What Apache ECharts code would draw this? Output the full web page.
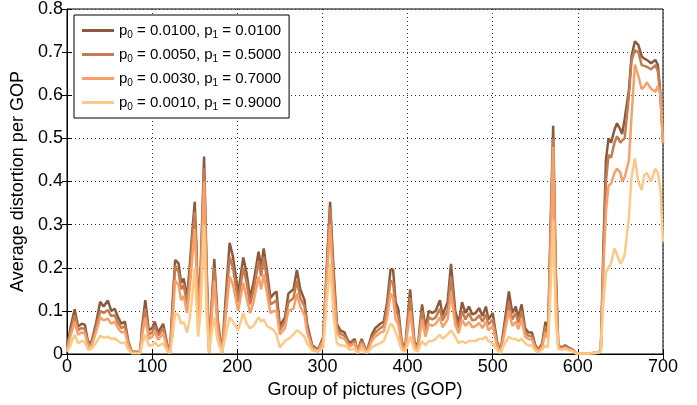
<!DOCTYPE html>
<html>
<head>
<meta charset="utf-8">
<script src="https://cdn.jsdelivr.net/npm/echarts@6/dist/echarts.min.js"></script>
<style>
html,body{margin:0;padding:0;background:#fff;}
#chart{width:697px;height:405px;}
</style>
</head>
<body>
<div id="chart"></div>
<script>
// GOP index (x) samples
const gop = [0,4,9,13,17,21,25,29,34,39,43,48,52,56,60,64,68,72,76,86,88,92,96,100,103,107,113,118,121,124,127,131,134,137,141,144,147,150,152,154,157,161,164,167,170,173,177,182,186,191,195,201,207,211,215,219,225,228,231,235,239,243,246,250,256,260,266,270,274,279,282,288,295,301,305,309,313,317,321,326,329,332,338,341,346,352,358,362,368,372,376,380,383,386,389,393,397,403,408,412,417,421,425,429,433,438,441,447,451,456,460,464,468,472,476,480,484,488,492,495,500,505,509,513,519,523,527,530,534,538,542,546,550,554,558,562,565,568,571,574,577,581,585,589,594,598,610,624,627,630,633,636,639,643,646,650,652,655,660,663,667,671,675,678,681,686,691,694,697,700];
// Average distortion per GOP, p0 = 0.0100, p1 = 0.0100
const dist1 = [0.015,0.06,0.104,0.063,0.07,0.068,0.025,0.03,0.07,0.121,0.11,0.124,0.1,0.105,0.085,0.07,0.075,0.03,0.005,0.005,0.06,0.125,0.055,0.06,0.075,0.05,0.07,0.02,0.005,0.12,0.218,0.21,0.165,0.175,0.13,0.2,0.28,0.353,0.25,0.1,0.2,0.458,0.2,0.005,0.12,0.22,0.08,0.003,0.12,0.258,0.225,0.14,0.224,0.187,0.13,0.165,0.237,0.2,0.245,0.19,0.13,0.14,0.145,0.065,0.085,0.14,0.15,0.195,0.15,0.125,0.07,0.02,0.01,0.04,0.2,0.353,0.2,0.07,0.055,0.05,0.035,0.025,0.035,0.005,0.035,0.005,0.045,0.06,0.07,0.075,0.12,0.196,0.196,0.12,0.105,0.03,0.01,0.15,0.03,0.015,0.115,0.06,0.1,0.095,0.1,0.125,0.09,0.12,0.209,0.1,0.07,0.12,0.095,0.11,0.092,0.095,0.107,0.088,0.11,0.08,0.095,0.03,0.005,0.06,0.145,0.095,0.11,0.085,0.115,0.06,0.05,0.05,0.02,0.01,0.025,0.075,0.045,0.3,0.529,0.2,0.02,0.015,0.02,0.015,0.01,0.002,0.001,0.003,0.01,0.25,0.45,0.5,0.49,0.52,0.535,0.52,0.51,0.545,0.613,0.69,0.725,0.717,0.69,0.685,0.682,0.674,0.682,0.67,0.6,0.5];
// p0 = 0.0050, p1 = 0.5000
const dist2 = [0.012,0.05,0.09,0.055,0.06,0.058,0.02,0.026,0.06,0.1,0.095,0.102,0.088,0.09,0.072,0.06,0.065,0.025,0.004,0.004,0.05,0.105,0.045,0.05,0.065,0.042,0.06,0.016,0.004,0.1,0.205,0.19,0.15,0.16,0.115,0.18,0.26,0.33,0.23,0.09,0.18,0.43,0.18,0.004,0.11,0.2,0.07,0.003,0.1,0.225,0.2,0.12,0.2,0.165,0.115,0.145,0.215,0.18,0.225,0.17,0.115,0.12,0.125,0.055,0.075,0.12,0.13,0.17,0.13,0.11,0.06,0.017,0.008,0.035,0.19,0.34,0.18,0.06,0.047,0.042,0.03,0.02,0.03,0.004,0.03,0.004,0.038,0.05,0.06,0.065,0.105,0.17,0.165,0.1,0.09,0.025,0.008,0.13,0.025,0.012,0.1,0.05,0.085,0.08,0.085,0.105,0.078,0.1,0.18,0.085,0.06,0.1,0.08,0.095,0.078,0.08,0.09,0.075,0.092,0.068,0.08,0.025,0.004,0.05,0.12,0.08,0.095,0.072,0.1,0.05,0.042,0.042,0.017,0.008,0.02,0.065,0.04,0.28,0.5,0.18,0.018,0.013,0.018,0.013,0.009,0.002,0.001,0.003,0.01,0.22,0.4,0.462,0.455,0.49,0.505,0.49,0.495,0.5,0.6,0.68,0.705,0.7,0.67,0.668,0.666,0.66,0.67,0.655,0.6,0.49];
// p0 = 0.0030, p1 = 0.7000
const dist3 = [0.01,0.04,0.075,0.045,0.05,0.048,0.016,0.02,0.05,0.085,0.078,0.082,0.07,0.075,0.06,0.05,0.052,0.02,0.003,0.003,0.04,0.085,0.035,0.04,0.052,0.033,0.048,0.012,0.003,0.08,0.17,0.16,0.125,0.135,0.095,0.15,0.22,0.29,0.2,0.075,0.16,0.4,0.15,0.003,0.09,0.17,0.055,0.002,0.08,0.18,0.16,0.1,0.165,0.13,0.095,0.12,0.18,0.15,0.185,0.14,0.095,0.1,0.1,0.045,0.06,0.1,0.105,0.14,0.11,0.09,0.05,0.014,0.006,0.03,0.17,0.3,0.15,0.05,0.038,0.035,0.025,0.017,0.025,0.003,0.024,0.003,0.03,0.04,0.05,0.052,0.085,0.14,0.13,0.08,0.07,0.02,0.006,0.1,0.02,0.01,0.08,0.04,0.07,0.065,0.07,0.085,0.062,0.08,0.14,0.068,0.048,0.08,0.065,0.075,0.062,0.065,0.072,0.06,0.075,0.055,0.065,0.02,0.003,0.04,0.1,0.065,0.075,0.058,0.08,0.04,0.034,0.034,0.014,0.006,0.016,0.05,0.035,0.25,0.48,0.15,0.015,0.011,0.015,0.011,0.008,0.002,0.001,0.003,0.01,0.2,0.33,0.39,0.395,0.42,0.43,0.42,0.4,0.41,0.45,0.55,0.671,0.645,0.614,0.62,0.63,0.615,0.608,0.622,0.6,0.49];
// p0 = 0.0010, p1 = 0.9000
const dist4 = [0.005,0.02,0.045,0.025,0.03,0.028,0.01,0.012,0.025,0.042,0.038,0.04,0.035,0.036,0.03,0.025,0.027,0.01,0.002,0.002,0.02,0.045,0.02,0.02,0.028,0.018,0.025,0.006,0.002,0.04,0.095,0.09,0.07,0.075,0.05,0.08,0.13,0.2,0.12,0.04,0.1,0.3,0.09,0.003,0.05,0.085,0.03,0.002,0.04,0.085,0.075,0.055,0.095,0.07,0.06,0.065,0.085,0.075,0.08,0.065,0.06,0.055,0.045,0.015,0.03,0.035,0.045,0.055,0.05,0.04,0.025,0.008,0.005,0.015,0.12,0.21,0.09,0.025,0.02,0.02,0.015,0.01,0.012,0.002,0.012,0.002,0.015,0.02,0.025,0.03,0.05,0.07,0.065,0.05,0.035,0.01,0.005,0.04,0.01,0.006,0.03,0.02,0.03,0.03,0.035,0.045,0.035,0.045,0.055,0.04,0.025,0.03,0.025,0.03,0.03,0.03,0.035,0.035,0.04,0.03,0.025,0.01,0.002,0.02,0.04,0.035,0.035,0.03,0.035,0.025,0.02,0.02,0.008,0.004,0.01,0.02,0.015,0.15,0.31,0.08,0.012,0.01,0.012,0.009,0.006,0.001,0.001,0.003,0.008,0.12,0.19,0.2,0.21,0.245,0.23,0.21,0.215,0.23,0.318,0.41,0.454,0.4,0.38,0.415,0.42,0.4,0.43,0.42,0.38,0.26];

const names = ['p0 = 0.0100, p1 = 0.0100','p0 = 0.0050, p1 = 0.5000','p0 = 0.0030, p1 = 0.7000','p0 = 0.0010, p1 = 0.9000'];
const colors = ['#8c5a3a','#c67c50','#f8a06a','#fdc987'];
const xTicks = [0,100,200,300,400,500,600,700];
const yTicks = [0,0.1,0.2,0.3,0.4,0.5,0.6,0.7,0.8];

const allData = [dist1, dist2, dist3, dist4];
const FONT = 'Liberation Sans, Arial, Helvetica, sans-serif';

const chart = echarts.init(document.getElementById('chart'), null, {renderer:'canvas'});
const axisCommon = {
  axisLine:{show:true,lineStyle:{color:'#000',width:1}},
  axisTick:{show:true,inside:true,length:5,lineStyle:{color:'#000'}},
};
chart.setOption({
  animation:false,
  backgroundColor:'#fff',
  textStyle:{fontFamily:FONT},
  grid:{left:67,right:34,top:9,bottom:51,show:true,borderColor:'#000',borderWidth:1,backgroundColor:'transparent'},
  legend:{
    orient:'vertical',left:74,top:15,
    data:names,
    backgroundColor:'#fff',borderColor:'#000',borderWidth:1,
    padding:[6,8,6,8],itemGap:5,itemWidth:32,itemHeight:3,icon:'rect',
    formatter:function(n){
      const m = n.match(/p0 = ([\d.]+), p1 = ([\d.]+)/);
      return 'p{sub|0} = '+m[1]+', p{sub|1} = '+m[2];
    },
    textStyle:{fontSize:15,color:'#000',fontFamily:FONT,lineHeight:18,
      rich:{sub:{fontSize:10,color:'#000',fontFamily:FONT,padding:[9,0,0,0],lineHeight:10}}}
  },
  xAxis:[{
    type:'value',min:0,max:700,interval:100,position:'bottom',
    name:'Group of pictures (GOP)',nameLocation:'middle',nameGap:20,
    nameTextStyle:{fontSize:18,color:'#000',fontFamily:FONT},
    ...axisCommon,
    axisLabel:{fontSize:18,color:'#000',margin:4,fontFamily:FONT,
      customValues:xTicks},
    splitLine:{show:true,lineStyle:{color:'#333',type:[1,3],width:1}}
  },{
    type:'value',min:0,max:700,interval:100,position:'top',
    ...axisCommon,axisLabel:{show:false},splitLine:{show:false}
  }],
  yAxis:[{
    type:'value',min:0,max:0.8,interval:0.1,position:'left',
    name:'Average distortion per GOP',nameLocation:'middle',nameGap:32,
    nameTextStyle:{fontSize:18,color:'#000',fontFamily:FONT},
    ...axisCommon,
    axisLabel:{fontSize:18,color:'#000',margin:4,fontFamily:FONT,
      formatter:function(v){return v===0?'0':String(Math.round(v*10)/10);}},
    splitLine:{show:true,lineStyle:{color:'#333',type:[1,3],width:1}}
  },{
    type:'value',min:0,max:0.8,interval:0.1,position:'right',
    ...axisCommon,axisLabel:{show:false},splitLine:{show:false}
  }],
  series: names.map((n,i)=>({
    name:n,type:'line',xAxisIndex:0,yAxisIndex:0,
    data:gop.map((g,k)=>[g,allData[i][k]]),
    showSymbol:false,symbol:'none',smooth:false,
    lineStyle:{color:colors[i],width:2.5},
    itemStyle:{color:colors[i]},
    z:2+i
  }))
});
</script>
</body>
</html>
